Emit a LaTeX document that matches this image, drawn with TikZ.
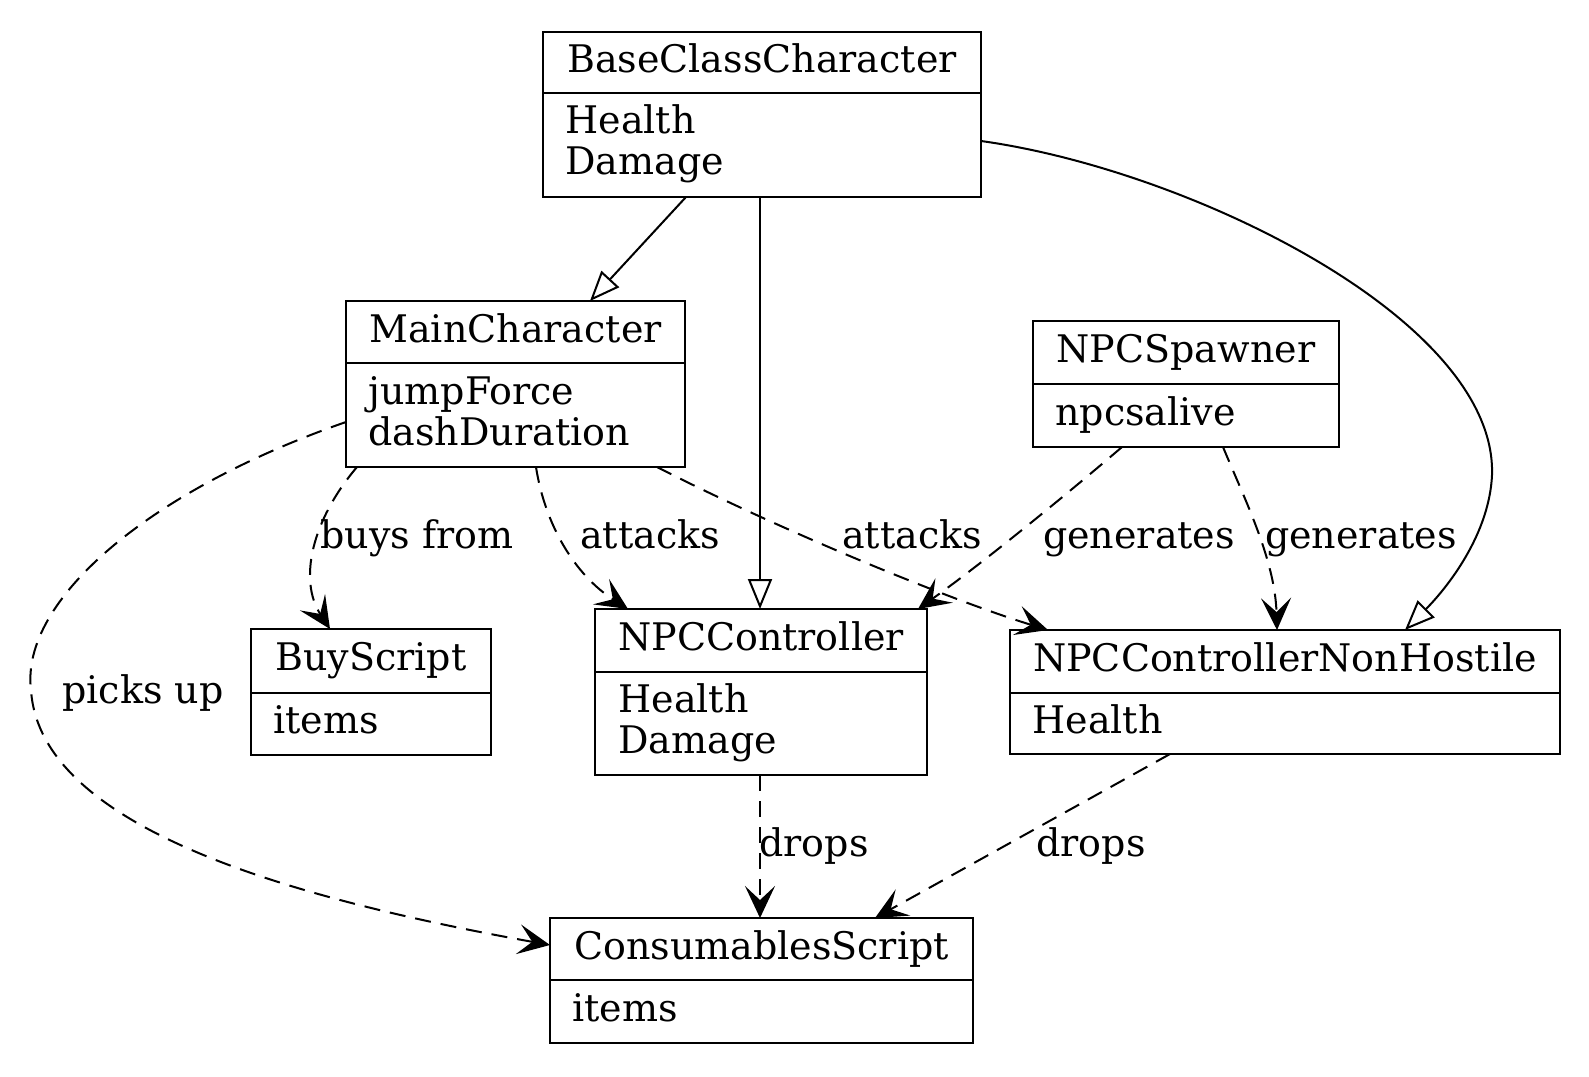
\documentclass[tikz,border=0pt]{standalone}
\usepackage{fontspec}
\setmainfont{DejaVu Serif}
\usetikzlibrary{arrows.meta,calc}
\begin{document}
\begin{tikzpicture}[x=0.5pt,y=-0.5pt,
  box/.style={draw, line width=1.2pt, inner sep=0pt, outer sep=0pt},
  divider/.style={line width=1.2pt},
  txt/.style={inner sep=0pt, font=\fontsize{19pt}{20.5pt}\selectfont},
  hdr/.style={txt, anchor=base},
  attr/.style={txt, anchor=base west},
  lbl/.style={txt, anchor=base},
  dep/.style={line width=1pt, dash pattern=on 8pt off 5pt, -{Stealth[length=16pt,width=15pt,inset=7pt]}},
  gen/.style={line width=1pt, -{Triangle[open,length=15pt,width=12pt]}}
]
\useasboundingbox (0,0) rectangle (1589,1076);

% BaseClassCharacter
\node[box, minimum width=219pt, minimum height=82.5pt] (bcc) at (762,114.5) {};
\draw[divider] (bcc.west |- 0,93) -- (bcc.east |- 0,93);
\node[hdr] (bcc-t) at (762,72) {BaseClassCharacter};
\node[attr] (bcc-a1) at (565,133) {Health};
\node[attr] (bcc-a2) at (565,174) {Damage};

% MainCharacter
\node[box, minimum width=169.5pt, minimum height=83pt] (mc) at (515.5,384) {};
\draw[divider] (mc.west |- 0,363) -- (mc.east |- 0,363);
\node[hdr] (mc-t) at (515.5,342) {MainCharacter};
\node[attr] (mc-a1) at (368,404) {jumpForce};
\node[attr] (mc-a2) at (368,445) {dashDuration};

% NPCSpawner
\node[box, minimum width=153pt, minimum height=63pt] (sp) at (1186,384) {};
\draw[divider] (sp.west |- 0,384) -- (sp.east |- 0,384);
\node[hdr] (sp-t) at (1186,362) {NPCSpawner};
\node[attr] (sp-a1) at (1055,425) {npcsalive};

% BuyScript
\node[box, minimum width=120pt, minimum height=63pt] (buy) at (371,692) {};
\draw[divider] (buy.west |- 0,693) -- (buy.east |- 0,693);
\node[hdr] (buy-t) at (371,670) {BuyScript};
\node[attr] (buy-a1) at (273,733) {items};

% NPCController
\node[box, minimum width=166pt, minimum height=83pt] (npcc) at (761,692) {};
\draw[divider] (npcc.west |- 0,672) -- (npcc.east |- 0,672);
\node[hdr] (npcc-t) at (761,650) {NPCController};
\node[attr] (npcc-a1) at (618,712) {Health};
\node[attr] (npcc-a2) at (618,753) {Damage};

% NPCControllerNonHostile
\node[box, minimum width=275pt, minimum height=62pt] (nh) at (1285,692) {};
\draw[divider] (nh.west |- 0,693) -- (nh.east |- 0,693);
\node[hdr] (nh-t) at (1285,671) {NPCControllerNonHostile};
\node[attr] (nh-a1) at (1032,733) {Health};

% ConsumablesScript
\node[box, minimum width=211.5pt, minimum height=62.5pt] (cs) at (761.5,980.5) {};
\draw[divider] (cs.west |- 0,980) -- (cs.east |- 0,980);
\node[hdr] (cs-t) at (761.5,959) {ConsumablesScript};
\node[attr] (cs-a1) at (572,1021) {items};

% generalizations
\draw[gen] (686,0 |- bcc.south) -- (590,0 |- mc.north);
\draw[gen] (760,0 |- bcc.south) -- (760,0 |- npcc.north);
\draw[gen] (bcc.east |- 0,141) .. controls (1190,170) and (1497,320) .. (1492,475)
  .. controls (1489,540) and (1440,595) .. (1405,0 |- nh.north);

% dependencies
\draw[dep] (357,0 |- mc.south) .. controls (312,520) and (298,580) .. (330,0 |- buy.north);
\draw[dep] (536,0 |- mc.south) .. controls (545,525) and (575,575) .. (628,0 |- npcc.north);
\draw[dep] (657,0 |- mc.south) .. controls (780,530) and (950,600) .. (1048,0 |- nh.north);
\draw[dep] (1122,0 |- sp.south) .. controls (1060,500) and (980,565) .. (918,0 |- npcc.north);
\draw[dep] (1223,0 |- sp.south) .. controls (1245,500) and (1275,560) .. (1277,0 |- nh.north);
\draw[dep] (mc.west |- 0,422) .. controls (150,490) and (20,600) .. (31,690)
  .. controls (40,830) and (300,900) .. (cs.west |- 0,945);
\draw[dep] (760,0 |- npcc.south) -- (760,0 |- cs.north);
\draw[dep] (1170,0 |- nh.south) -- (875,0 |- cs.north);

% labels
\node[lbl] (l-buys) at (417,548) {buys from};
\node[lbl] (l-att1) at (650,548) {attacks};
\node[lbl] (l-att2) at (912,548) {attacks};
\node[lbl] (l-gen1) at (1139,548) {generates};
\node[lbl] (l-gen2) at (1361,548) {generates};
\node[lbl] (l-pick) at (143,703) {picks up};
\node[lbl] (l-drop1) at (814,856) {drops};
\node[lbl] (l-drop2) at (1091,856) {drops};
\end{tikzpicture}
\end{document}
